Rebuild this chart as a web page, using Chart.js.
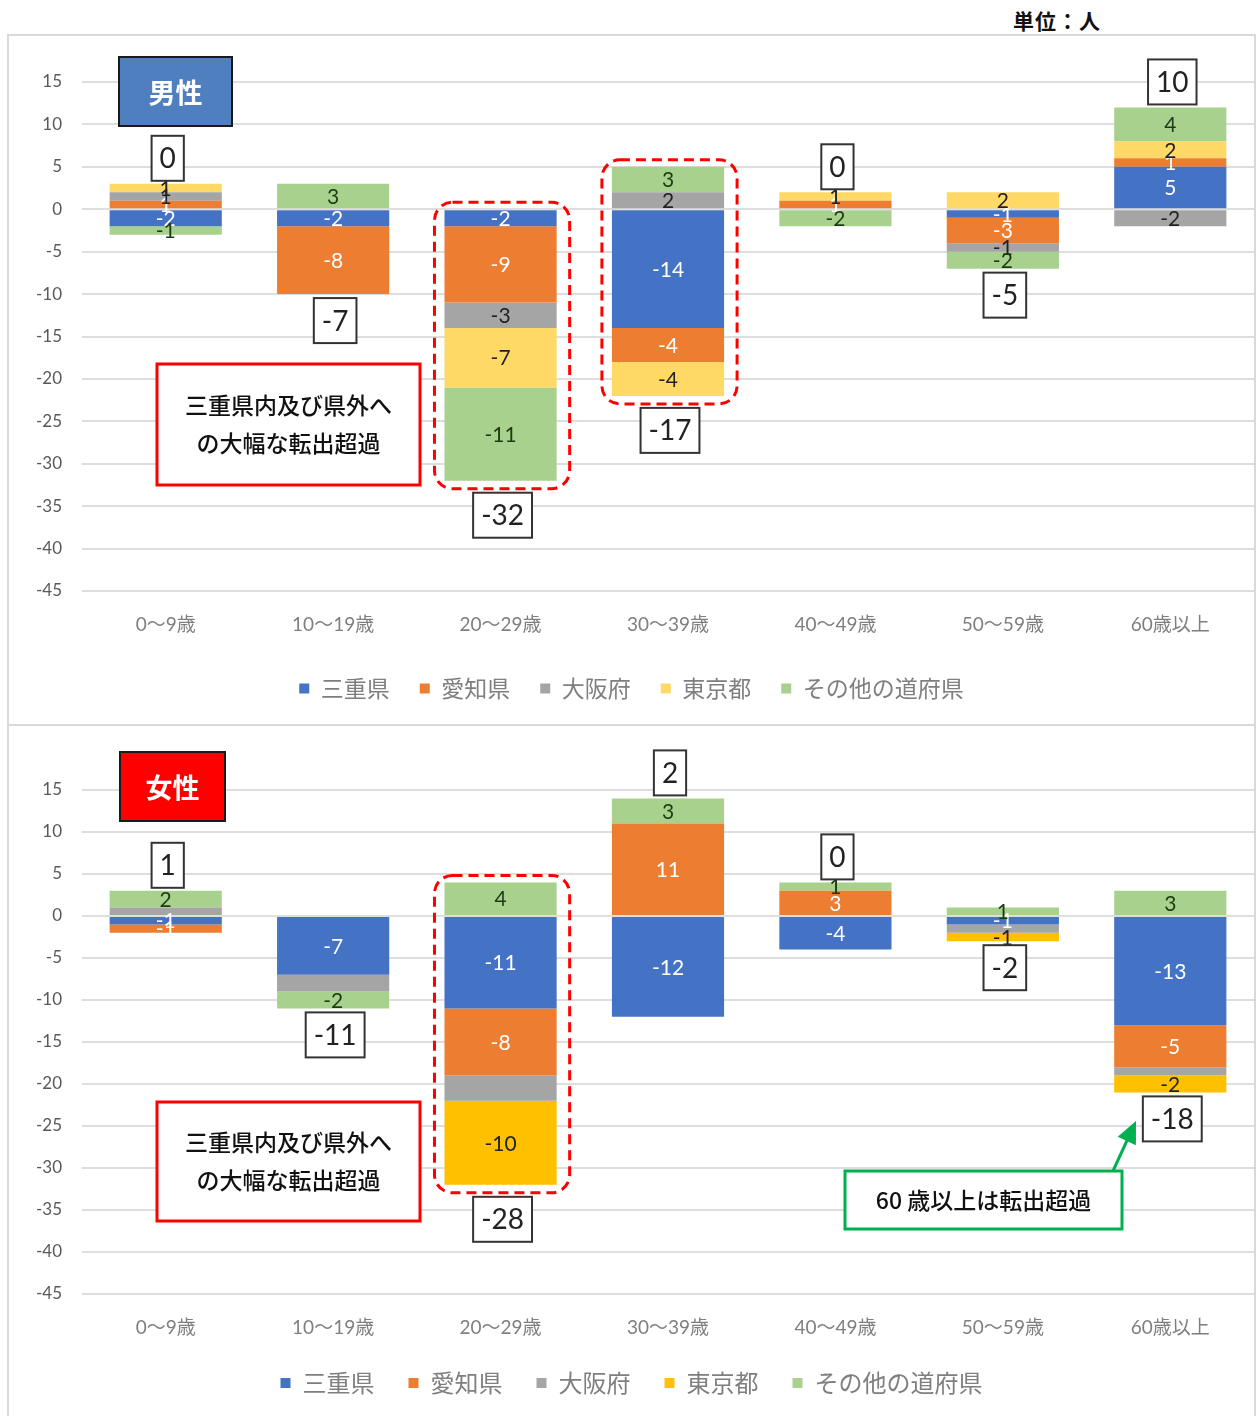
<!DOCTYPE html>
<html lang="ja">
<head>
<meta charset="utf-8">
<title>年代別転入転出超過</title>
<script src="https://cdn.jsdelivr.net/npm/chart.js@4/dist/chart.umd.min.js"></script>
<style>
  body { margin: 0; background: #fff; }
  #page { position: relative; width: 1256px; height: 1416px; overflow: hidden; }
  .panel { position: absolute; left: 7px; width: 1249px; border: 2px solid #d9d9d9; box-sizing: border-box; }
  #unit { position: absolute; left: 1013px; top: 5px; font: 700 21px "Noto Sans CJK JP", sans-serif; color: #111; letter-spacing: 1px; }
  canvas { position: absolute; }
</style>
</head>
<body>
<div id="page">
  <div id="unit">単位：人</div>
  <div class="panel" style="top:34px;height:692px"></div>
  <div class="panel" style="top:724px;height:710px"></div>
  <canvas id="maleChart" width="1245" height="688" style="left:9px;top:36px"></canvas>
  <canvas id="femaleChart" width="1245" height="689" style="left:9px;top:727px"></canvas>
</div>
<script>
var ageGroups = ['0～9歳', '10～19歳', '20～29歳', '30～39歳', '40～49歳', '50～59歳', '60歳以上'];
var regions = ['三重県', '愛知県', '大阪府', '東京都', 'その他の道府県'];
var yTicks = { min: -45, max: 15, step: 5 };

// 男性
var maleMie = [-2, -2, -2, -14, 0, -1, 5];
var maleAichi = [1, -8, -9, -4, 1, -3, 1];
var maleOsaka = [1, 0, -3, 2, 0, -1, -2];
var maleTokyo = [1, 0, -7, -4, 1, 2, 2];
var maleOther = [-1, 3, -11, 3, -2, -2, 4];

// 女性
var femaleMie = [-1, -7, -11, -12, -4, -1, -13];
var femaleAichi = [-1, 0, -8, 11, 3, 0, -5];
var femaleOsaka = [1, -2, -3, 0, 0, -1, -1];
var femaleTokyo = [0, 0, -10, 0, 0, -1, -2];
var femaleOther = [2, -2, 4, 3, 1, 1, 3];

var FONT = 'Lato, "Noto Sans CJK JP", sans-serif';
var JP = '"Noto Sans CJK JP", sans-serif';
var labelColors = ['#ffffff', '#ffffff', '#222222', '#222222', '#1e3a12'];

// numbers written inside each bar segment
var segmentLabels = {
  id: 'segmentLabels',
  afterDatasetsDraw: function (chart, args, opts) {
    var ctx = chart.ctx;
    ctx.save();
    ctx.font = '21px ' + FONT;
    ctx.textAlign = 'center';
    ctx.textBaseline = 'middle';
    chart.data.datasets.forEach(function (ds, di) {
      if (opts.hideSets && opts.hideSets.indexOf(di) >= 0) return;
      chart.getDatasetMeta(di).data.forEach(function (bar, i) {
        var v = ds.data[i];
        if (!v) return;
        ctx.fillStyle = labelColors[di];
        ctx.fillText(String(v), bar.x, (bar.y + bar.base) / 2 + 1);
      });
    });
    ctx.restore();
  }
};

function roundRect(ctx, x, y, w, h, r) {
  ctx.beginPath();
  ctx.moveTo(x + r, y);
  ctx.arcTo(x + w, y, x + w, y + h, r);
  ctx.arcTo(x + w, y + h, x, y + h, r);
  ctx.arcTo(x, y + h, x, y, r);
  ctx.arcTo(x, y, x + w, y, r);
  ctx.closePath();
}

// boxed net total per age group, plus dashed frames round the highlighted bars
var totalBoxes = {
  id: 'totalBoxes',
  afterDatasetsDraw: function (chart, args, opts) {
    var ctx = chart.ctx;
    var xs = chart.scales.x, ys = chart.scales.y;
    var sets = chart.data.datasets;
    var bar0 = chart.getDatasetMeta(0).data;
    ctx.save();
    chart.data.labels.forEach(function (_, i) {
      var pos = 0, neg = 0;
      sets.forEach(function (ds) {
        var v = ds.data[i];
        if (v > 0) pos += v; else neg += v;
      });
      var total = pos + neg;
      var cx = xs.getPixelForValue(i);
      var half = bar0[i].width / 2;
      var top = ys.getPixelForValue(pos);
      var bottom = ys.getPixelForValue(neg);

      if (opts.framed.indexOf(i) >= 0) {
        top -= 7;
        bottom += 8;
        ctx.strokeStyle = '#ff0000';
        ctx.lineWidth = 3;
        ctx.setLineDash([10, 6]);
        roundRect(ctx, cx - half - 10, top, half * 2 + 23, bottom - top, 18);
        ctx.stroke();
        ctx.setLineDash([]);
      }

      ctx.font = '28px ' + FONT;
      var text = String(total);
      var w = ctx.measureText(text).width + 16;
      var h = 45;
      var by = total >= 0 ? top - 3 - h : bottom + 4;
      var bx = cx + 2 - w / 2;
      ctx.fillStyle = '#ffffff';
      ctx.fillRect(bx, by, w, h);
      ctx.strokeStyle = '#333333';
      ctx.lineWidth = 2;
      ctx.strokeRect(bx, by, w, h);
      ctx.fillStyle = '#222222';
      ctx.textAlign = 'center';
      ctx.textBaseline = 'middle';
      ctx.fillText(text, bx + w / 2, by + h / 2 + 1);
    });
    ctx.restore();
  }
};

// title tag, comment boxes and arrow
var notes = {
  id: 'notes',
  afterDraw: function (chart, args, opts) {
    var ctx = chart.ctx;
    ctx.save();
    var t = opts.tag;
    ctx.fillStyle = t.fill;
    ctx.fillRect(t.x, t.y, t.w, t.h);
    ctx.strokeStyle = '#1a1a1a';
    ctx.lineWidth = 2;
    ctx.strokeRect(t.x, t.y, t.w, t.h);
    ctx.fillStyle = '#ffffff';
    ctx.font = 'bold 27px ' + JP;
    ctx.textAlign = 'center';
    ctx.textBaseline = 'middle';
    ctx.fillText(t.text, t.x + t.w / 2, t.y + t.h / 2 + 1);

    opts.boxes.forEach(function (b) {
      ctx.fillStyle = '#ffffff';
      ctx.fillRect(b.x, b.y, b.w, b.h);
      ctx.strokeStyle = b.color;
      ctx.lineWidth = 3;
      ctx.strokeRect(b.x, b.y, b.w, b.h);
      ctx.fillStyle = '#111111';
      ctx.font = '500 23px ' + JP;
      var step = 38;
      var y0 = b.y + b.h / 2 - (b.lines.length - 1) * step / 2;
      b.lines.forEach(function (line, k) {
        ctx.fillText(line, b.x + b.w / 2, y0 + k * step);
      });
    });

    if (opts.arrow) {
      var a = opts.arrow;
      var ang = Math.atan2(a.y2 - a.y1, a.x2 - a.x1);
      ctx.strokeStyle = a.color;
      ctx.fillStyle = a.color;
      ctx.lineWidth = 3;
      ctx.beginPath();
      ctx.moveTo(a.x1, a.y1);
      ctx.lineTo(a.x2 - 14 * Math.cos(ang), a.y2 - 14 * Math.sin(ang));
      ctx.stroke();
      ctx.beginPath();
      ctx.moveTo(a.x2, a.y2);
      ctx.lineTo(a.x2 - 22 * Math.cos(ang) + 10 * Math.sin(ang), a.y2 - 22 * Math.sin(ang) - 10 * Math.cos(ang));
      ctx.lineTo(a.x2 - 22 * Math.cos(ang) - 10 * Math.sin(ang), a.y2 - 22 * Math.sin(ang) + 10 * Math.cos(ang));
      ctx.closePath();
      ctx.fill();
    }
    ctx.restore();
  }
};

function buildChart(id, series, colors, cfg) {
  var datasets = series.map(function (data, k) {
    return {
      label: regions[k],
      data: data,
      backgroundColor: colors[k],
      borderWidth: 0,
      barPercentage: 0.67,
      categoryPercentage: 1
    };
  });
  return new Chart(document.getElementById(id), {
    type: 'bar',
    data: { labels: ageGroups, datasets: datasets },
    plugins: [segmentLabels, totalBoxes, notes],
    options: {
      responsive: false,
      animation: false,
      layout: { padding: { top: cfg.padTop, bottom: cfg.padBottom, left: 0, right: 0 } },
      scales: {
        x: {
          stacked: true,
          grid: { display: false, drawTicks: false },
          border: { display: false },
          ticks: { color: '#7f7f7f', font: { size: 19, family: FONT }, padding: 22 },
          afterFit: function (s) { s.height = cfg.xHeight; }
        },
        y: {
          stacked: true,
          min: yTicks.min,
          max: yTicks.max,
          grid: { color: '#dedede', lineWidth: 2, drawTicks: false },
          border: { display: false },
          ticks: { stepSize: yTicks.step, color: '#595959', font: { size: 17, family: FONT }, padding: 20 },
          afterFit: function (s) { s.width = 73; }
        }
      },
      plugins: {
        tooltip: { enabled: false },
        legend: {
          position: 'bottom',
          maxHeight: 62,
          labels: {
            boxWidth: 10,
            boxHeight: 10,
            padding: cfg.legendPad,
            color: '#7f7f7f',
            font: { size: cfg.legendSize, family: JP }
          }
        },
        segmentLabels: { hideSets: cfg.hideSets },
        totalBoxes: { framed: cfg.framed },
        notes: cfg.notes
      }
    }
  });
}

buildChart('maleChart',
  [maleMie, maleAichi, maleOsaka, maleTokyo, maleOther],
  ['#4472c4', '#ed7d31', '#a5a5a5', '#ffd966', '#a9d18e'],
  {
    padTop: 46, padBottom: 15, xHeight: 56, legendPad: 30, legendSize: 23,
    hideSets: [], framed: [2, 3],
    notes: {
      tag: { text: '男性', x: 110, y: 21, w: 113, h: 69, fill: '#4f7fbf' },
      boxes: [{ x: 148, y: 328, w: 263, h: 121, color: '#ff0000', lines: ['三重県内及び県外へ', 'の大幅な転出超過'] }]
    }
  });

buildChart('femaleChart',
  [femaleMie, femaleAichi, femaleOsaka, femaleTokyo, femaleOther],
  ['#4472c4', '#ed7d31', '#a5a5a5', '#ffc000', '#a9d18e'],
  {
    padTop: 63, padBottom: 17, xHeight: 43, legendPad: 34, legendSize: 24,
    hideSets: [2], framed: [2],
    notes: {
      tag: { text: '女性', x: 111, y: 25, w: 105, h: 69, fill: '#ff0000' },
      boxes: [
        { x: 148, y: 375, w: 263, h: 119, color: '#ff0000', lines: ['三重県内及び県外へ', 'の大幅な転出超過'] },
        { x: 836, y: 444, w: 277, h: 58, color: '#00b050', lines: ['60 歳以上は転出超過'] }
      ],
      arrow: { x1: 1104, y1: 444, x2: 1127, y2: 394, color: '#00b050' }
    }
  });
</script>
</body>
</html>
